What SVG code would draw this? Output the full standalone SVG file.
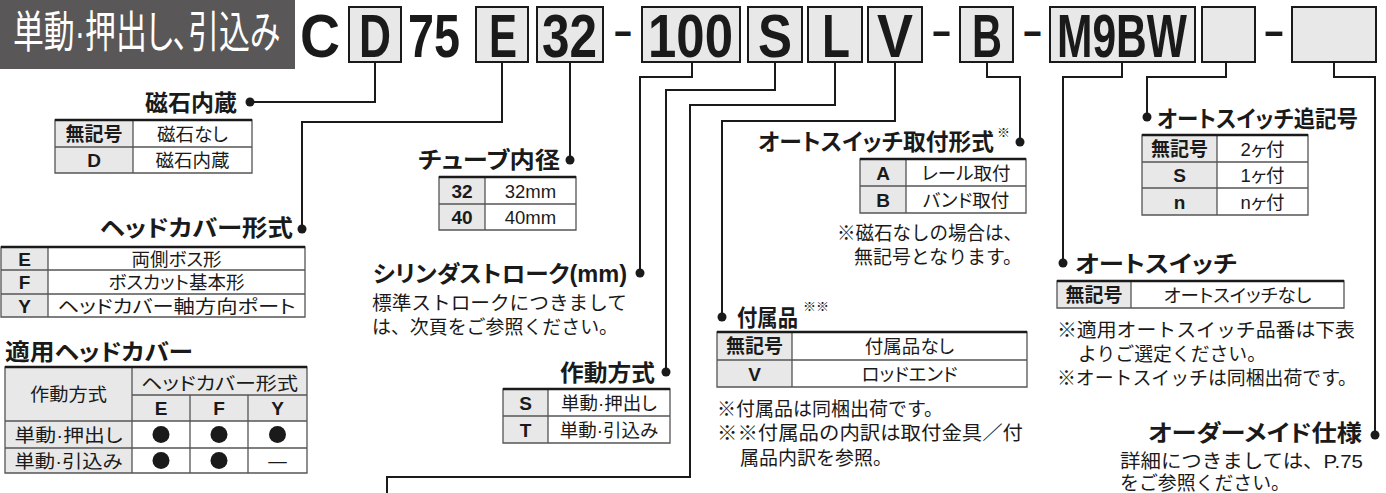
<svg xmlns="http://www.w3.org/2000/svg" width="1386" height="493" viewBox="0 0 1386 493">
<style>
text{font-family:"Liberation Sans","Noto Sans CJK JP",sans-serif;fill:#1a1a1a;font-feature-settings:"palt"}
.code{font-size:62px;font-weight:bold}
.dash{font-size:36px;font-weight:bold}
.box{fill:#e8e8e8;stroke:#1a1a1a;stroke-width:2}
.conn{fill:none;stroke:#1a1a1a;stroke-width:2}
.dot{fill:#1a1a1a}
.h{font-size:23px;font-weight:bold}
.sup{font-size:13px}
text.note{font-size:19px;font-feature-settings:normal}
.c{font-size:18.5px;text-anchor:middle}
.k{font-size:19px;font-weight:bold;text-anchor:middle}
.kf{fill:#e8e8e8}
.vf{fill:#fff}
.grid{fill:none;stroke:#555;stroke-width:1.3}
.top{stroke:#1a1a1a;stroke-width:2.5}
.end{text-anchor:end}
</style>

<g id="title">
<rect x="0" y="0" width="295" height="69" fill="#595757"/>
<text transform="translate(13,48) scale(0.73,1)" font-size="44" style="fill:#fff" textLength="366" lengthAdjust="spacingAndGlyphs">単動·押出し、引込み</text>
</g>

<g id="code">
<rect class="box" x="349" y="7" width="52" height="55"/>
<rect class="box" x="476" y="7" width="52" height="55"/>
<rect class="box" x="537" y="7" width="66" height="55"/>
<rect class="box" x="642" y="7" width="98" height="55"/>
<rect class="box" x="748" y="7" width="54" height="55"/>
<rect class="box" x="808" y="7" width="54" height="55"/>
<rect class="box" x="868" y="7" width="54" height="55"/>
<rect class="box" x="960" y="7" width="53" height="55"/>
<rect class="box" x="1050" y="7" width="145" height="55"/>
<rect class="box" x="1202" y="7" width="53" height="55"/>
<rect class="box" x="1292" y="7" width="84" height="55"/>
<text class="code" x="300" y="57" textLength="40" lengthAdjust="spacingAndGlyphs">C</text>
<text class="code" x="359" y="57" textLength="32" lengthAdjust="spacingAndGlyphs">D</text>
<text class="code" x="408" y="57" textLength="52" lengthAdjust="spacingAndGlyphs">75</text>
<text class="code" x="489" y="57" textLength="28" lengthAdjust="spacingAndGlyphs">E</text>
<text class="code" x="542" y="57" textLength="55" lengthAdjust="spacingAndGlyphs">32</text>
<text class="dash" x="613" y="43" textLength="20" lengthAdjust="spacingAndGlyphs">-</text>
<text class="code" x="648" y="57" textLength="85" lengthAdjust="spacingAndGlyphs">100</text>
<text class="code" x="758" y="57" textLength="34" lengthAdjust="spacingAndGlyphs">S</text>
<text class="code" x="822" y="57" textLength="28" lengthAdjust="spacingAndGlyphs">L</text>
<text class="code" x="877" y="57" textLength="36" lengthAdjust="spacingAndGlyphs">V</text>
<text class="dash" x="931" y="43" textLength="21" lengthAdjust="spacingAndGlyphs">-</text>
<text class="code" x="972" y="57" textLength="30" lengthAdjust="spacingAndGlyphs">B</text>
<text class="dash" x="1022" y="43" textLength="21" lengthAdjust="spacingAndGlyphs">-</text>
<text class="code" x="1057" y="57" textLength="130" lengthAdjust="spacingAndGlyphs">M9BW</text>
<text class="dash" x="1263" y="43" textLength="22" lengthAdjust="spacingAndGlyphs">-</text>
</g>

<g id="connectors">
<path class="conn" d="M375,62V102H250"/>
<path class="conn" d="M502,62V122H302V229"/>
<path class="conn" d="M570,62V160"/>
<path class="conn" d="M692,62V77H640V273"/>
<path class="conn" d="M775,62V90H666V372"/>
<path class="conn" d="M835,62V105H690V477H387V493"/>
<path class="conn" d="M895,62V121H722V317"/>
<path class="conn" d="M987,62V77H1020V142"/>
<path class="conn" d="M1122,62V77H1063V263"/>
<path class="conn" d="M1226,62V77H1147V117"/>
<path class="conn" d="M1334,62V77H1375V435"/>
<circle class="dot" cx="250" cy="102" r="4.5"/>
<circle class="dot" cx="302" cy="229" r="4.5"/>
<circle class="dot" cx="570" cy="160" r="4.5"/>
<circle class="dot" cx="640" cy="273" r="4.5"/>
<circle class="dot" cx="666" cy="372" r="4.5"/>
<circle class="dot" cx="722" cy="317" r="4.5"/>
<circle class="dot" cx="1020" cy="142" r="4.5"/>
<circle class="dot" cx="1063" cy="263" r="4.5"/>
<circle class="dot" cx="1147" cy="117" r="4.5"/>
<circle class="dot" cx="1375" cy="435" r="4.5"/>
</g>

<g id="magnet">
<text class="h end" x="237" y="111" textLength="92" lengthAdjust="spacingAndGlyphs">磁石内蔵</text>
<rect class="kf" x="55" y="120" width="78" height="53"/>
<rect class="vf" x="133" y="120" width="119" height="53"/>
<path class="grid" d="M55,147H252M133,120V173M55,120H252V173H55Z"/>
<line class="top" x1="55" y1="120" x2="252" y2="120"/>
<text class="k" x="94" y="140.5">無記号</text>
<text class="c" x="192.5" y="140.5">磁石なし</text>
<text class="k" x="94" y="167">D</text>
<text class="c" x="192.5" y="167">磁石内蔵</text>
</g>

<g id="headcover">
<text class="h end" x="293" y="236" textLength="193" lengthAdjust="spacingAndGlyphs">ヘッドカバー形式</text>
<rect class="kf" x="1" y="247" width="47" height="70"/>
<rect class="vf" x="48" y="247" width="257" height="70"/>
<path class="grid" d="M1,270H305M1,294H305M48,247V317M1,247H305V317H1Z"/>
<line class="top" x1="1" y1="247" x2="305" y2="247"/>
<text class="k" x="24.5" y="265.5">E</text>
<text class="c" x="176.5" y="265.5">両側ボス形</text>
<text class="k" x="24.5" y="289">F</text>
<text class="c" x="176.5" y="289">ボスカット基本形</text>
<text class="k" x="24.5" y="312.5">Y</text>
<text class="c" x="176.5" y="312.5" textLength="238" lengthAdjust="spacingAndGlyphs">ヘッドカバー軸方向ポート</text>
</g>

<g id="applicable">
<text class="h" x="5" y="360" textLength="188" lengthAdjust="spacingAndGlyphs">適用ヘッドカバー</text>
<rect class="kf" x="5" y="367" width="302" height="54"/>
<rect class="kf" x="5" y="421" width="127" height="52"/>
<rect class="vf" x="132" y="421" width="175" height="52"/>
<path class="grid" d="M132,395H307M5,421H307M5,448H307M132,367V473M190,395V473M248,395V473M5,367H307V473H5Z"/>
<line class="top" x1="5" y1="367" x2="307" y2="367"/>
<text class="c" x="68.5" y="401" textLength="77" lengthAdjust="spacingAndGlyphs">作動方式</text>
<text class="c" x="219.5" y="389.5" textLength="157" lengthAdjust="spacingAndGlyphs">ヘッドカバー形式</text>
<text class="k" x="161" y="414.5">E</text>
<text class="k" x="219" y="414.5">F</text>
<text class="k" x="277.5" y="414.5">Y</text>
<text class="c" x="68.5" y="441.5" textLength="108" lengthAdjust="spacingAndGlyphs">単動·押出し</text>
<text class="c" x="68.5" y="467.5" textLength="108" lengthAdjust="spacingAndGlyphs">単動·引込み</text>
<circle class="dot" cx="161" cy="434.5" r="8.5"/>
<circle class="dot" cx="219" cy="434.5" r="8.5"/>
<circle class="dot" cx="277.5" cy="434.5" r="8.5"/>
<circle class="dot" cx="161" cy="460.5" r="8.5"/>
<circle class="dot" cx="219" cy="460.5" r="8.5"/>
<text class="c" x="277.5" y="467">—</text>
</g>

<g id="bore">
<text class="h end" x="560" y="168" textLength="142" lengthAdjust="spacingAndGlyphs">チューブ内径</text>
<rect class="kf" x="439" y="177" width="46" height="53"/>
<rect class="vf" x="485" y="177" width="91" height="53"/>
<path class="grid" d="M439,204H576M485,177V230M439,177H576V230H439Z"/>
<line class="top" x1="439" y1="177" x2="576" y2="177"/>
<text class="k" x="462" y="197.5">32</text>
<text class="c" x="530.5" y="197.5">32mm</text>
<text class="k" x="462" y="224">40</text>
<text class="c" x="530.5" y="224">40mm</text>
</g>

<g id="stroke">
<text class="h end" x="627" y="282" textLength="254" lengthAdjust="spacingAndGlyphs">シリンダストローク(mm)</text>
<text class="note" x="372" y="310" textLength="255" lengthAdjust="spacingAndGlyphs">標準ストロークにつきまして</text>
<text class="note" x="372" y="334" textLength="246" lengthAdjust="spacingAndGlyphs">は、次頁をご参照ください。</text>
</g>

<g id="action">
<text class="h end" x="655" y="381" textLength="95" lengthAdjust="spacingAndGlyphs">作動方式</text>
<rect class="kf" x="503" y="389" width="45" height="54"/>
<rect class="vf" x="548" y="389" width="122" height="54"/>
<path class="grid" d="M503,416H670M548,389V443M503,389H670V443H503Z"/>
<line class="top" x1="503" y1="389" x2="670" y2="389"/>
<text class="k" x="525.5" y="409.5">S</text>
<text class="c" x="609" y="409.5">単動·押出し</text>
<text class="k" x="525.5" y="436.5">T</text>
<text class="c" x="609" y="436.5">単動·引込み</text>
</g>

<g id="mounting">
<text class="h end" x="994" y="150" textLength="236" lengthAdjust="spacingAndGlyphs">オートスイッチ取付形式</text>
<text class="sup" x="997" y="137">※</text>
<rect class="kf" x="860" y="159" width="46" height="54"/>
<rect class="vf" x="906" y="159" width="120" height="54"/>
<path class="grid" d="M860,186H1026M906,159V213M860,159H1026V213H860Z"/>
<line class="top" x1="860" y1="159" x2="1026" y2="159"/>
<text class="k" x="883" y="179.5">A</text>
<text class="c" x="966" y="179.5">レール取付</text>
<text class="k" x="883" y="206.5">B</text>
<text class="c" x="966" y="206.5">バンド取付</text>
<text class="note end" x="1022" y="240" textLength="185" lengthAdjust="spacingAndGlyphs">※磁石なしの場合は、</text>
<text class="note end" x="1022" y="264" textLength="168" lengthAdjust="spacingAndGlyphs">無記号となります。</text>
</g>

<g id="accessory">
<text class="h" x="737" y="326" textLength="61" lengthAdjust="spacingAndGlyphs">付属品</text>
<text class="sup" x="803" y="311">※※</text>
<rect class="kf" x="717" y="332" width="75" height="55"/>
<rect class="vf" x="792" y="332" width="235" height="55"/>
<path class="grid" d="M717,360H1027M792,332V387M717,332H1027V387H717Z"/>
<line class="top" x1="717" y1="332" x2="1027" y2="332"/>
<text class="k" x="754.5" y="353">無記号</text>
<text class="c" x="909.5" y="353">付属品なし</text>
<text class="k" x="754.5" y="380.5">V</text>
<text class="c" x="909.5" y="380.5">ロッドエンド</text>
<text class="note" x="717" y="416" textLength="226" lengthAdjust="spacingAndGlyphs">※付属品は同梱出荷です。</text>
<text class="note" x="717" y="440" textLength="306" lengthAdjust="spacingAndGlyphs">※※付属品の内訳は取付金具／付</text>
<text class="note" x="740" y="465" textLength="152" lengthAdjust="spacingAndGlyphs">属品内訳を参照。</text>
</g>

<g id="suffix">
<text class="h" x="1157" y="127" textLength="201" lengthAdjust="spacingAndGlyphs">オートスイッチ追記号</text>
<rect class="kf" x="1142" y="135" width="75" height="80"/>
<rect class="vf" x="1217" y="135" width="91" height="80"/>
<path class="grid" d="M1142,162H1308M1142,188H1308M1217,135V215M1142,135H1308V215H1142Z"/>
<line class="top" x1="1142" y1="135" x2="1308" y2="135"/>
<text class="k" x="1179.5" y="155.5">無記号</text>
<text class="c" x="1262.5" y="155.5">2ヶ付</text>
<text class="k" x="1179.5" y="182">S</text>
<text class="c" x="1262.5" y="182">1ヶ付</text>
<text class="k" x="1179.5" y="208.5">n</text>
<text class="c" x="1262.5" y="208.5">nヶ付</text>
</g>

<g id="autoswitch">
<text class="h" x="1075" y="272" textLength="162" lengthAdjust="spacingAndGlyphs">オートスイッチ</text>
<rect class="kf" x="1057" y="281" width="74" height="27"/>
<rect class="vf" x="1131" y="281" width="213" height="27"/>
<path class="grid" d="M1131,281V308M1057,281H1344V308H1057Z"/>
<line class="top" x1="1057" y1="281" x2="1344" y2="281"/>
<text class="k" x="1094" y="301.5">無記号</text>
<text class="c" x="1237.5" y="301.5">オートスイッチなし</text>
<text class="note" x="1057" y="337" textLength="298" lengthAdjust="spacingAndGlyphs">※適用オートスイッチ品番は下表</text>
<text class="note" x="1078" y="361" textLength="188" lengthAdjust="spacingAndGlyphs">よりご選定ください。</text>
<text class="note" x="1057" y="385" textLength="300" lengthAdjust="spacingAndGlyphs">※オートスイッチは同梱出荷です。</text>
</g>

<g id="madetoorder">
<text class="h end" x="1362" y="441" textLength="214" lengthAdjust="spacingAndGlyphs">オーダーメイド仕様</text>
<text class="note" x="1120" y="468" textLength="243" lengthAdjust="spacingAndGlyphs">詳細につきましては、P.75</text>
<text class="note" x="1120" y="490" textLength="170" lengthAdjust="spacingAndGlyphs">をご参照ください。</text>
</g>
</svg>
